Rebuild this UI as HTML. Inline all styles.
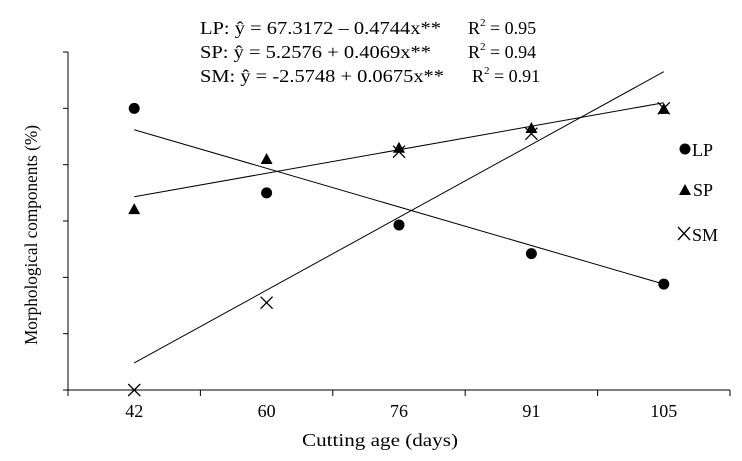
<!DOCTYPE html>
<html><head><meta charset="utf-8"><style>
body{margin:0;background:#fff}
svg{display:block;font-family:"Liberation Serif",serif}
</style></head><body>
<svg width="742" height="461">
<g id="axes"></g>
<g id="marks"></g>
<g font-size="18" fill="#000">
<text x="200" y="34" textLength="241" lengthAdjust="spacingAndGlyphs">LP: ŷ = 67.3172 – 0.4744x**</text>
<text x="468" y="34">R<tspan font-size="11" dy="-8">2</tspan><tspan dy="8"> = 0.95</tspan></text>
<text x="200" y="58" textLength="231" lengthAdjust="spacingAndGlyphs">SP: ŷ = 5.2576 + 0.4069x**</text>
<text x="468" y="58">R<tspan font-size="11" dy="-8">2</tspan><tspan dy="8"> =  0.94</tspan></text>
<text x="200" y="82" textLength="244" lengthAdjust="spacingAndGlyphs">SM: ŷ = -2.5748 + 0.0675x**</text>
<text x="472" y="82">R<tspan font-size="11" dy="-8">2</tspan><tspan dy="8"> = 0.91</tspan></text>
</g>
<text transform="translate(37,235) rotate(-90)" text-anchor="middle" font-size="18" textLength="220" lengthAdjust="spacingAndGlyphs">Morphological components (%)</text>
<text x="302" y="446" font-size="18" textLength="156" lengthAdjust="spacingAndGlyphs">Cutting age (days)</text>
<g font-size="18">
<g><circle cx="685" cy="149" r="5.5"/><text x="692" y="156">LP</text></g>
<g><polygon points="679,195 685,184 691,195"/><text x="693" y="196">SP</text></g>
<g><path d="M678,227 L690,240 M690,227 L678,240" stroke="#000" stroke-width="1.3"/><text x="692" y="241">SM</text></g>
</g>
</svg>
<script>
const categories=["42","60","76","91","105"];
const lpValues=[50,35,29.3,24.2,18.8];
const spValues=[32.1,41,43,46.5,49.9];
const smValues=[0,15.5,42.3,45.5,50];
const lpFit=[46.2,18.8];
const spFit=[34.3,51];
const smFit=[4.8,56.5];
const yTicks=[0,10,20,30,40,50,60];
const NS="http://www.w3.org/2000/svg";
const x0=68,x1=730,y0=390,yTop=52;
function xScale(i){return x0+(x1-x0)*(i+0.5)/categories.length;}
function yScale(v){return y0-(v/60)*(y0-yTop);}
function mk(tag,attrs,parent){const e=document.createElementNS(NS,tag);for(const k in attrs)e.setAttribute(k,attrs[k]);parent.appendChild(e);return e;}
const axes=document.getElementById('axes'),marks=document.getElementById('marks');
let a=mk('line',{x1:x0,y1:yTop,x2:x0,y2:y0,stroke:'#000'},axes);


a=mk('line',{x1:x0,y1:y0,x2:x1,y2:y0,stroke:'#000'},axes);


yTicks.forEach(v=>{const t=mk('line',{x1:x0-5,y1:yScale(v),x2:x0,y2:yScale(v),stroke:'#000'},axes);

});
for(let i=0;i<=categories.length;i++){const x=x0+(x1-x0)*i/categories.length;const t=mk('line',{x1:x,y1:y0,x2:x,y2:y0+6,stroke:'#000'},axes);

}
categories.forEach((c,i)=>{const t=mk('text',{x:xScale(i),y:y0+27,'text-anchor':'middle','font-size':18},axes);t.textContent=c;

});
function fitLine(f,name){const l=mk('line',{x1:xScale(0),y1:yScale(f[0]),x2:xScale(categories.length-1),y2:yScale(f[1]),stroke:'#000','stroke-width':1},marks);

}
fitLine(lpFit,'lp-fit-line');fitLine(spFit,'sp-fit-line');fitLine(smFit,'sm-fit-line');
lpValues.forEach((v,i)=>{const c=mk('circle',{cx:xScale(i),cy:yScale(v),r:5.5},marks);

});
spValues.forEach((v,i)=>{const x=xScale(i),y=yScale(v);const p=mk('polygon',{points:`${x-6},${y+5} ${x},${y-6} ${x+6},${y+5}`},marks);

});
smValues.forEach((v,i)=>{const x=xScale(i),y=yScale(v);const p=mk('path',{d:`M${x-6},${y-6}L${x+6},${y+6}M${x+6},${y-6}L${x-6},${y+6}`,stroke:'#000','stroke-width':1.3},marks);

});
</script>
</body></html>
